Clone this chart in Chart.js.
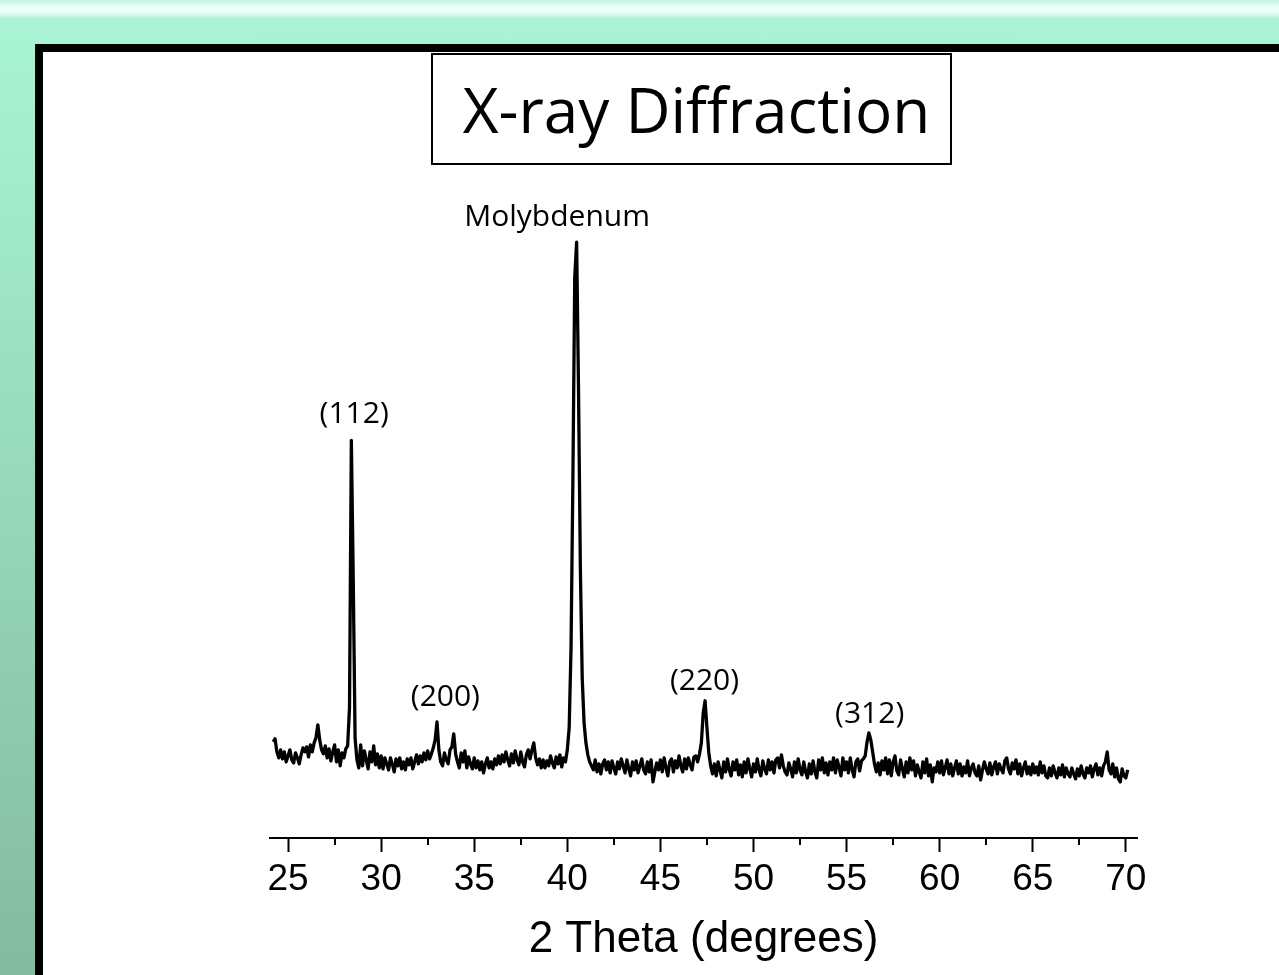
<!DOCTYPE html>
<html>
<head>
<meta charset="utf-8">
<script src="https://cdn.jsdelivr.net/npm/chart.js@4/dist/chart.umd.min.js"></script>
<style>
  html, body { margin: 0; padding: 0; }
  body {
    width: 1279px; height: 975px; overflow: hidden; position: relative;
    background: linear-gradient(to bottom, #c9efe0 0px, #d9fbef 4px, #f2fffb 9px, #dcfbf0 14px, #aaf4d5 19px, #a8f3d4 44px, #84baa2 975px);
  }
  #panel {
    position: absolute; left: 35px; top: 44px; right: 0; bottom: 0;
    border-left: 8px solid #000; border-top: 8px solid #000;
    background: #fff;
  }
  #titleBox {
    position: absolute; left: 431px; top: 53px; width: 517px; height: 108px;
    border: 2px solid #000; background: #fff;
    font-family: "Open Sans", "Noto Sans", sans-serif; font-size: 62px;
    line-height: 108px; text-align: center; text-indent: 10px; color: #000;
  }
  #chartWrap { position: absolute; left: 0; top: 0; width: 1279px; height: 975px; }
</style>
</head>
<body>
<div id="panel"></div>
<div id="titleBox">X-ray Diffraction</div>
<div id="chartWrap"><canvas id="xrd"></canvas></div>
<script>
"use strict"

// scan grid (degrees 2θ)
const startAngle = 24.2;
const stepAngle = 0.1;

// intensity, one value per 0.1°
const counts = [
  960, 990, 860, 800, 880, 790, 860, 760,                 // 24.2 - 24.9
  820, 880, 780, 750, 850, 800, 740, 830, 900, 860,       // 25
  910, 810, 930, 860, 950, 1000, 1130, 980, 880, 840,     // 26
  920, 800, 890, 770, 860, 930, 760, 880, 720, 850,       // 27
  800, 890, 920, 1300, 3970, 2600, 1000, 780, 700, 930,   // 28
  720, 870, 780, 690, 860, 760, 920, 730, 840, 700,       // 29
  820, 690, 800, 740, 680, 800, 740, 660, 790, 720,       // 30
  800, 690, 760, 680, 790, 730, 800, 690, 760, 830,       // 31
  740, 820, 760, 850, 780, 870, 790, 840, 900, 980,       // 32
  1160, 880, 760, 720, 850, 780, 740, 880, 910, 1040,     // 33
  840, 760, 700, 850, 760, 870, 700, 810, 740, 690,       // 34
  800, 700, 770, 680, 760, 650, 740, 800, 700, 760,       // 35
  690, 790, 730, 820, 740, 830, 760, 860, 780, 720,       // 36
  840, 750, 870, 780, 730, 860, 760, 710, 830, 880,       // 37
  790, 880, 950, 800, 730, 790, 700, 780, 700, 770,       // 38
  720, 820, 750, 700, 810, 740, 830, 710, 800, 760,       // 39
  880, 1100, 1900, 3600, 5600, 5950, 4500, 2700, 1600, 1150, // 40
  950, 830, 760, 720, 680, 780, 660, 740, 640, 740,       // 41
  780, 680, 760, 650, 770, 700, 640, 760, 690, 790,       // 42
  720, 650, 780, 690, 620, 760, 680, 770, 650, 720,       // 43
  790, 680, 640, 760, 660, 780, 560, 660, 750, 680,       // 44
  780, 660, 800, 700, 620, 760, 790, 660, 770, 700,       // 45
  820, 720, 660, 790, 690, 800, 730, 680, 810, 820,       // 46
  760, 840, 950, 1250, 1370, 1100, 850, 720, 640, 740,    // 47
  620, 760, 680, 600, 760, 660, 790, 680, 620, 760,       // 48
  680, 780, 630, 730, 610, 760, 650, 790, 690, 610,       // 49
  740, 660, 790, 680, 620, 770, 690, 640, 780, 680,       // 50
  760, 650, 780, 800, 700, 830, 720, 660, 630, 750,       // 51
  690, 610, 760, 650, 790, 680, 630, 760, 660, 600,       // 52
  740, 640, 770, 660, 600, 780, 680, 800, 650, 750,       // 53
  630, 760, 680, 800, 650, 780, 700, 620, 800, 680,       // 54
  760, 650, 800, 680, 610, 760, 790, 670, 770, 790,       // 55
  820, 960, 1050, 980, 860, 740, 660, 750, 630, 770,      // 56
  680, 800, 640, 780, 620, 760, 820, 670, 630, 780,       // 57
  690, 610, 760, 650, 800, 680, 770, 620, 730, 660,       // 58
  600, 760, 650, 790, 620, 730, 560, 700, 660, 760,       // 59
  650, 770, 630, 700, 780, 640, 740, 620, 700, 770,       // 60
  640, 740, 620, 710, 650, 770, 620, 700, 740, 650,       // 61
  620, 720, 580, 680, 760, 690, 640, 750, 630, 710,       // 62
  760, 640, 740, 690, 650, 770, 800, 690, 640, 750,       // 63
  690, 780, 640, 740, 620, 700, 760, 640, 710, 630,       // 64
  740, 650, 710, 630, 760, 650, 720, 620, 600, 700,       // 65
  620, 720, 650, 600, 700, 630, 730, 610, 700, 640,       // 66
  610, 700, 640, 590, 690, 620, 720, 640, 600, 700,       // 67
  650, 720, 610, 690, 740, 630, 700, 620, 720, 760,       // 68
  860, 680, 640, 740, 610, 700, 590, 560, 690, 620,       // 69
  600, 680                                                // 70.0 - 70.1
];

const twoTheta = counts.map((_, i) => +(startAngle + i * stepAngle).toFixed(1));

// peak labels
const peakNames = ['(112)', '(200)', 'Molybdenum', '(220)', '(312)'];
const peakAngles = [28.55, 33.45, 39.45, 47.37, 56.24];
const peakLabelCounts = [4230, 1400, 6200, 1560, 1230];

const majorTicks = [25, 30, 35, 40, 45, 50, 55, 60, 65, 70];
const minorTicks = [27.5, 32.5, 37.5, 42.5, 47.5, 52.5, 57.5, 62.5, 67.5];

const peakLabels = {
    id: 'peakLabels',
    afterDatasetsDraw(chart) {
        const { ctx, scales: { x, y } } = chart;
        ctx.save();
        ctx.fillStyle = '#000';
        ctx.font = '30px "Open Sans", "Noto Sans", sans-serif';
        ctx.textAlign = 'center';
        ctx.textBaseline = 'middle';
        peakNames.forEach((n, i) => {
            ctx.fillText(n, x.getPixelForValue(peakAngles[i]), y.getPixelForValue(peakLabelCounts[i]));
        });
        ctx.restore();
    }
};

// small ticks between the labelled ones
const minorTickMarks = {
    id: 'minorTickMarks',
    afterDraw(chart) {
        const { ctx, chartArea, scales: { x } } = chart;
        ctx.save();
        ctx.strokeStyle = '#000';
        ctx.lineWidth = 2;
        minorTicks.forEach(v => {
            const px = Math.round(x.getPixelForValue(v));
            ctx.beginPath();
            ctx.moveTo(px, chartArea.bottom);
            ctx.lineTo(px, chartArea.bottom + 7);
            ctx.stroke();
        });
        ctx.restore();
    }
};

new Chart(document.getElementById('xrd'), {
    type: 'line',
    data: {
        datasets: [{
            data: twoTheta.map((t, i) => ({ x: t, y: counts[i] })),
            borderColor: '#000',
            borderWidth: 3.3,
            borderJoinStyle: 'round',
            pointRadius: 0,
            tension: 0,
            fill: false
        }]
    },
    options: {
        responsive: true,
        maintainAspectRatio: false,
        animation: false,
        layout: { padding: { left: 270, right: 142, top: 197, bottom: 0 } },
        plugins: { legend: { display: false }, tooltip: { enabled: false } },
        scales: {
            x: {
                type: 'linear',
                position: 'bottom',
                min: 24.03,
                max: 70.6,
                afterFit: s => { s.height = 137; },
                afterBuildTicks: s => { s.ticks = majorTicks.map(v => ({ value: v })); },
                border: { display: true, color: '#000', width: 2 },
                grid: { drawOnChartArea: false, drawTicks: true, tickLength: 14, tickWidth: 2, tickColor: '#000' },
                ticks: {
                    color: '#000',
                    padding: 6,
                    maxRotation: 0,
                    font: { family: '"Liberation Sans", Arial, sans-serif', size: 37 }
                },
                title: {
                    display: true,
                    text: '2 Theta (degrees)',
                    color: '#000',
                    padding: { top: 0, bottom: 9 },
                    font: { family: '"Liberation Sans", Arial, sans-serif', size: 44 }
                }
            },
            y: {
                display: false,
                min: 0,
                max: 6400
            }
        }
    },
    plugins: [peakLabels, minorTickMarks]
});
</script>
</body>
</html>
